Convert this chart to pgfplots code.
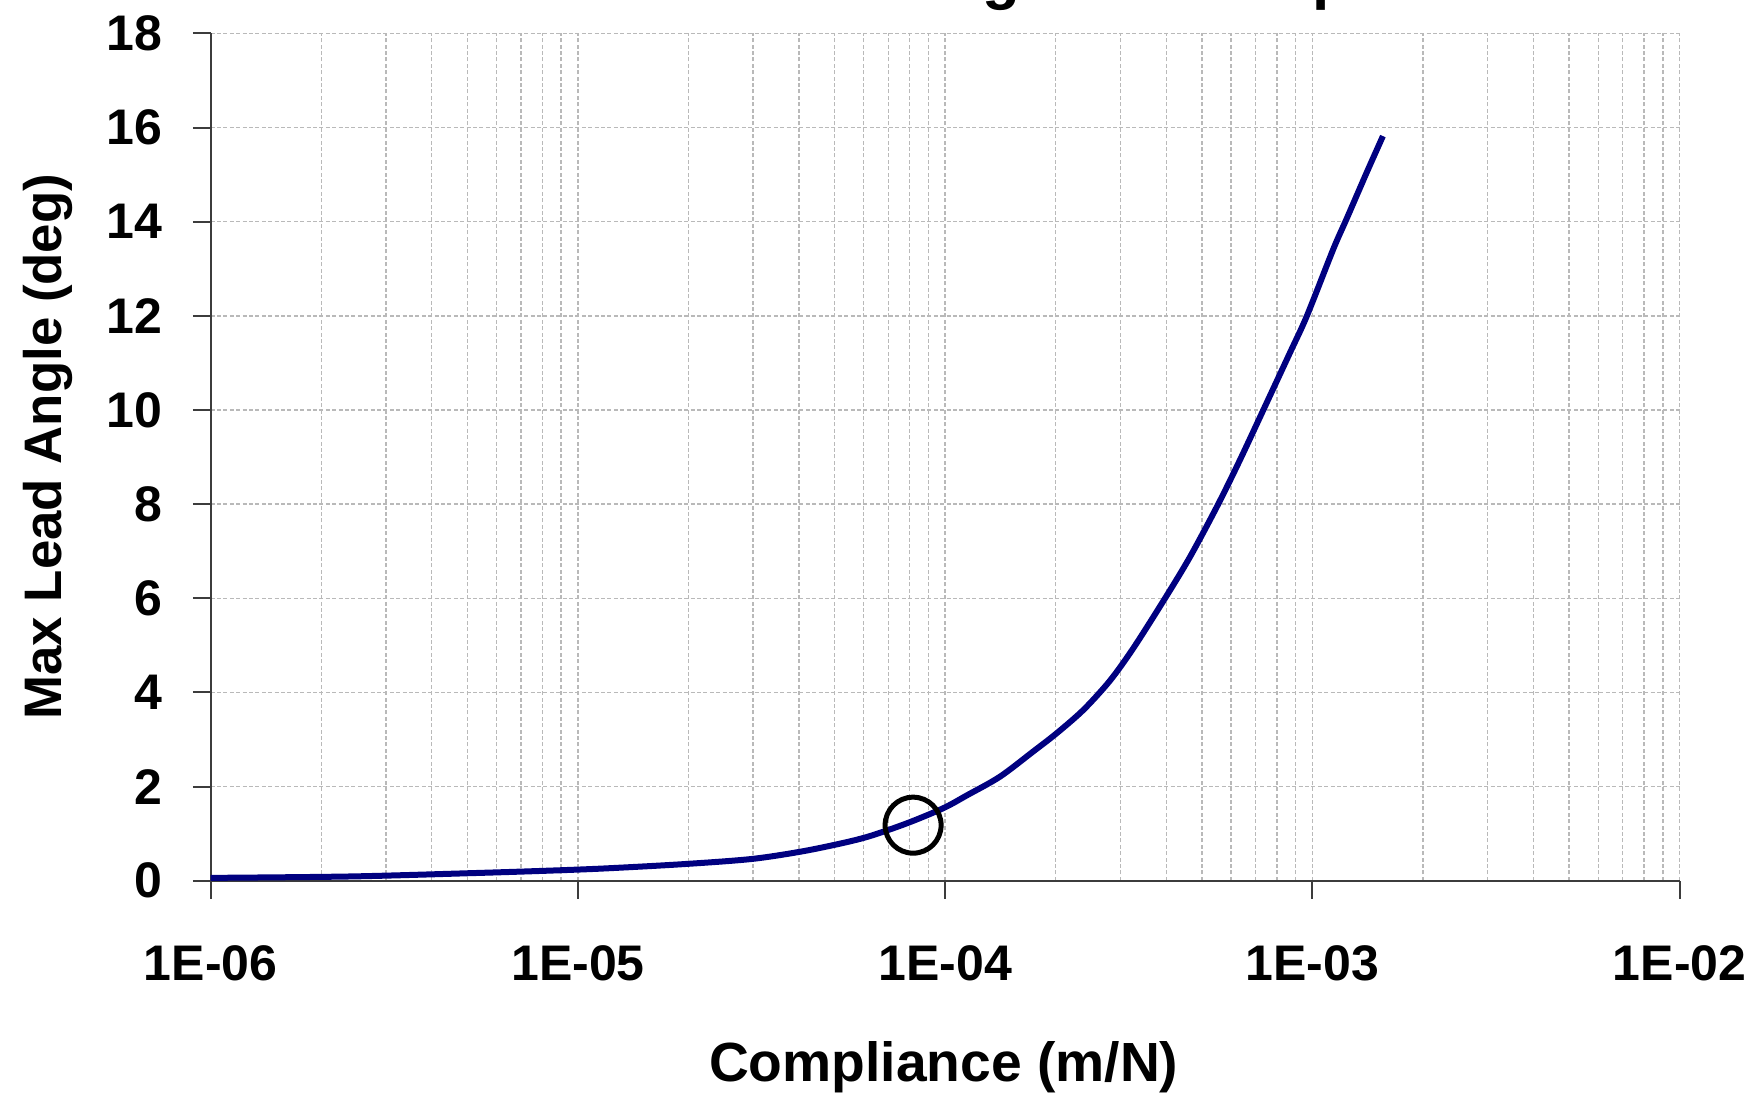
\documentclass[border=0pt]{standalone}
\usepackage{fontspec}
\setmainfont{Liberation Sans}
\usepackage{pgfplots}
\pgfplotsset{compat=1.18}
\definecolor{navyline}{RGB}{0,0,128}
\definecolor{gridgray}{RGB}{185,185,185}
\definecolor{axgray}{RGB}{60,60,60}
\begin{document}
\begin{tikzpicture}
\path[use as bounding box] (-52.675pt,-53.075pt) rectangle (386.575pt,220.175pt);
\clip (-52.675pt,-53.075pt) rectangle (386.575pt,220.175pt);
\begin{axis}[
  at={(0pt,0pt)}, anchor=south west,
  scale only axis, width=367.25pt, height=211.8pt,
  xmode=log, log basis x=10,
  xmin=1e-6, xmax=1e-2, ymin=0, ymax=18,
  xtick={1e-6,1e-5,1e-4,1e-3,1e-2},
  xticklabels={1E-06,1E-05,1E-04,1E-03,1E-02},
  minor xtick={2e-6,3e-6,4e-6,5e-6,6e-6,7e-6,8e-6,9e-6,
               2e-5,3e-5,4e-5,5e-5,6e-5,7e-5,8e-5,9e-5,
               2e-4,3e-4,4e-4,5e-4,6e-4,7e-4,8e-4,9e-4,
               2e-3,3e-3,4e-3,5e-3,6e-3,7e-3,8e-3,9e-3},
  ytick={0,2,4,6,8,10,12,14,16,18},
  axis x line*=bottom, axis y line*=left,
  axis line style={line width=0.5pt, color=axgray},
  tick align=outside, major tick length=4.5pt, minor tick length=0pt,
  major tick style={line width=0.5pt, color=axgray},
  xmajorgrids, xminorgrids, ymajorgrids,
  major grid style={line width=0.35pt, color=gridgray, dash pattern=on 1pt off 0.6pt},
  minor grid style={line width=0.35pt, color=gridgray, dash pattern=on 1pt off 0.6pt},
  /pgf/number format/assume math mode=true,
  ticklabel style={font=\fontsize{12.5}{14}\selectfont\bfseries},
  yticklabel style={anchor=east, inner sep=0pt, xshift=-7.4pt},
  xticklabel style={anchor=north, inner sep=0pt, yshift=-11.5pt},
  clip=false,
]
\addplot[color=navyline, line width=1.5pt, smooth] coordinates {
(1e-6,0.06) (2.4e-6,0.09) (5.1e-6,0.16) (8.1e-6,0.21) (1.18e-5,0.26)
(1.92e-5,0.35) (2.96e-5,0.46) (4.06e-5,0.62) (5.26e-5,0.80) (6.25e-5,0.95)
(7.87e-5,1.22) (9.88e-5,1.54) (1.15e-4,1.82) (1.41e-4,2.21) (1.74e-4,2.75)
(2.01e-4,3.13) (2.38e-4,3.63) (2.81e-4,4.25) (3.26e-4,4.95) (3.97e-4,6.00)
(4.65e-4,6.89) (5.54e-4,8.00) (6.35e-4,8.94) (7.35e-4,10.00)
(8.69e-4,11.22) (9.66e-4,12.00) (1.14e-3,13.42) (1.242e-3,14.08)
(1.406e-3,15.05) (1.556e-3,15.82)
};
\addplot[only marks, mark=o, mark size=7pt, mark options={line width=1.25pt, draw=black}] coordinates {(8.18e-5,1.18)};
\end{axis}
\node[anchor=base, font=\fontsize{13.8}{16}\selectfont\bfseries] at (183.25pt,-50.3pt) {Compliance (m/N)};
\node[anchor=base, rotate=90, font=\fontsize{13.2}{16}\selectfont\bfseries] at (-37.25pt,108.5pt) {Max Lead Angle (deg)};
\node[anchor=base, font=\fontsize{15.5}{18}\selectfont\bfseries] at (213.1pt,220.9pt) {Max Lead Angle vs Compliance};
\end{tikzpicture}
\end{document}
